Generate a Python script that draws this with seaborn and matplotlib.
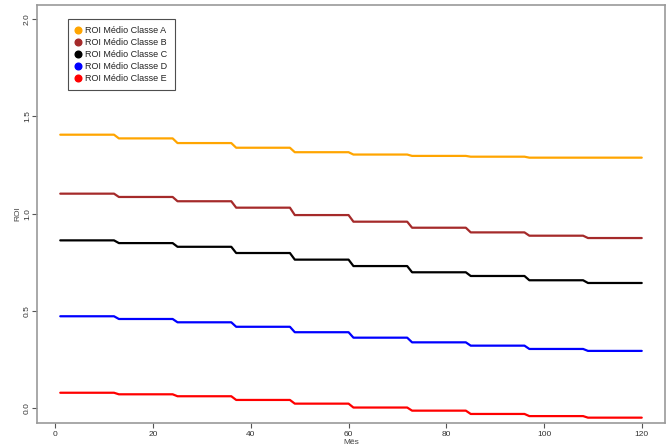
import numpy as np
import pandas as pd
import matplotlib
matplotlib.use("Agg")
import matplotlib.pyplot as plt
from matplotlib.lines import Line2D
import seaborn as sns

# Yearly ROI levels (each held for 12 months)
classes = ["ROI Médio Classe A", "ROI Médio Classe B", "ROI Médio Classe C",
           "ROI Médio Classe D", "ROI Médio Classe E"]
roi_a = [1.406, 1.387, 1.363, 1.339, 1.316, 1.304, 1.297, 1.293, 1.288, 1.288]
roi_b = [1.103, 1.086, 1.064, 1.031, 0.993, 0.959, 0.928, 0.904, 0.887, 0.875]
roi_c = [0.863, 0.849, 0.830, 0.798, 0.764, 0.731, 0.699, 0.680, 0.658, 0.644]
roi_d = [0.473, 0.459, 0.442, 0.419, 0.391, 0.363, 0.339, 0.322, 0.305, 0.295]
roi_e = [0.080, 0.072, 0.062, 0.043, 0.024, 0.004, -0.012, -0.029, -0.040, -0.048]
months = list(range(1, 121))
colors = ["#FFA500", "#A52A2A", "#000000", "#0000FF", "#FF0000"]
x_ticks = [0, 20, 40, 60, 80, 100, 120]
y_ticks = [0.0, 0.5, 1.0, 1.5, 2.0]

series = [roi_a, roi_b, roi_c, roi_d, roi_e]
frames = []
for name, vals in zip(classes, series):
    frames.append(pd.DataFrame({"Mês": months,
                                "ROI": np.repeat(vals, 12),
                                "Classe": name}))
df = pd.concat(frames, ignore_index=True)

sns.set_theme(style="white")
plt.rcParams["font.family"] = ["Liberation Sans", "DejaVu Sans"]

fig = plt.figure(figsize=(6.66, 4.46), dpi=100)
ax = fig.add_axes([37/666, 1-423.3/446, (665-37)/666, (423.3-4.7)/446])

sns.lineplot(data=df, x="Mês", y="ROI", hue="Classe", palette=colors,
             linewidth=1.6, ax=ax, legend=False)

ax.set_xlim(-3.76, 124.76)
ax.set_ylim(-0.077, 2.074)
ax.set_xticks(x_ticks)
ax.set_xticklabels([str(t) for t in x_ticks])
ax.set_yticks(y_ticks)
ax.set_yticklabels([f"{t:.1f}" for t in y_ticks], rotation=90, va="center")

for s in ax.spines.values():
    s.set_color("#9a9a9a")
    s.set_linewidth(1.2)

ax.tick_params(axis="both", which="both", direction="out", length=3.5,
               width=0.8, color="#555555", labelsize=6, labelcolor="#333333",
               bottom=True, left=True)
ax.tick_params(axis="y", pad=0.8)
ax.tick_params(axis="x", pad=2)
ax.set_xlabel("Mês", fontsize=6, color="#444444", labelpad=1)
ax.set_ylabel("ROI", fontsize=6, color="#444444", labelpad=2)

handles = [Line2D([], [], linestyle="none", marker="o", markersize=4.8,
                  markerfacecolor=c, markeredgecolor=c) for c in colors]
leg = ax.legend(handles, classes, loc="upper left",
                bbox_to_anchor=((68.3-37)/628, 1-(19-4.7)/418.6),
                fontsize=6.5, frameon=True, fancybox=False,
                handlelength=0.5, handletextpad=0.6, labelspacing=0.32,
                borderpad=0.8, borderaxespad=0)
leg.get_frame().set_edgecolor("#222222")
leg.get_frame().set_linewidth(0.8)
for t in leg.get_texts():
    t.set_color("#222222")

fig.savefig("out.png", dpi=100)
